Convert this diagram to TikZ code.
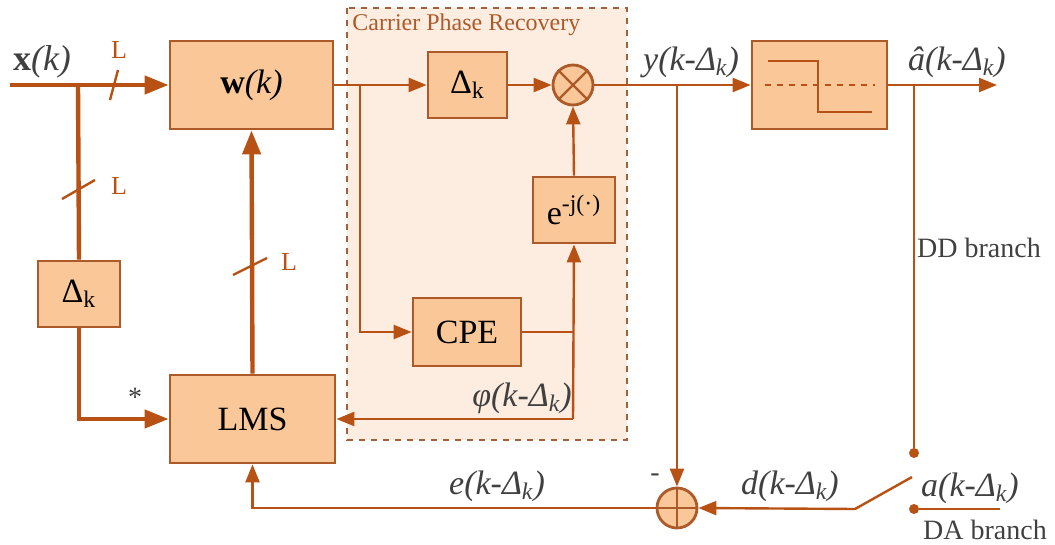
\documentclass[tikz,border=0pt]{standalone}
\usepackage{fontspec}
\setmainfont{Liberation Serif}
\usetikzlibrary{arrows.meta}

\definecolor{brn}{RGB}{184,82,20}
\definecolor{boxline}{RGB}{172,90,42}
\definecolor{boxfill}{RGB}{250,200,152}
\definecolor{cprfill}{RGB}{253,237,224}
\definecolor{txt}{RGB}{64,64,64}

\begin{document}
\begin{tikzpicture}[
x=0.5pt,y=-0.5pt,
box/.style={
draw=boxline,
fill=boxfill,
line width=1.4pt,
inner sep=0pt,
font=\fontsize{17}{20}\selectfont
},
sumnode/.style={
circle,
draw=boxline,
fill=boxfill,
line width=1.4pt,
minimum size=20pt,
inner sep=0pt
},
dot/.style={circle,fill=brn,inner sep=0pt,minimum size=5pt},
thickline/.style={draw=brn,line width=2.2pt},
thinline/.style={draw=brn,line width=1.2pt},
bigtip/.style={-{Triangle[length=12pt,width=9pt]}},
smalltip/.style={-{Triangle[length=9pt,width=7pt]}},
lbl/.style={text=txt,font=\fontsize{17}{20}\selectfont\itshape,inner sep=0pt},
note/.style={text=txt,font=\fontsize{14}{16}\selectfont,inner sep=0pt},
buslbl/.style={text=brn,font=\fontsize{13}{15}\selectfont,inner sep=0pt}
]

\useasboundingbox (0,0) rectangle (1055,545);

% carrier phase recovery area
\draw[fill=cprfill,draw=boxline!80!gray,dashed,line width=0.8pt] (347,8) rectangle (627,440);
\node[anchor=west,text=boxline,font=\fontsize{12}{14}\selectfont,inner sep=0pt] (CPRT) at (352,25) {Carrier Phase Recovery};

% blocks
\node[box,minimum width=81.5pt,minimum height=44pt] (W) at (251.5,85) {\textbf{w}\textit{(k)}};
\node[box,minimum width=82.5pt,minimum height=44pt] (LMS) at (252.5,419) {LMS};
\node[box,minimum width=41pt,minimum height=33pt] (D1) at (79,294) {Δ\textsubscript{k}};
\node[box,minimum width=39.5pt,minimum height=33pt] (D2) at (467.5,85) {Δ\textsubscript{k}};
\node[box,minimum width=41pt,minimum height=33pt] (E) at (574,210) {e\textsuperscript{-j(·)}};
\node[box,minimum width=54pt,minimum height=34pt] (CPE) at (467,332) {CPE};
\node[box,minimum width=67.5pt,minimum height=44pt] (DEC) at (819.5,85) {};
\node[sumnode] (MUL) at (573,85) {};
\node[sumnode] (ADD) at (677,508) {};
\node[dot] (DD) at (914,453) {};
\node[dot] (DA) at (914,509) {};

% symbols inside the circles and the decision box
\draw[boxline,line width=1.2pt] (MUL.45) -- (MUL.225) (MUL.135) -- (MUL.-45);
\draw[boxline,line width=1.2pt] (ADD.north) -- (ADD.south) (ADD.west) -- (ADD.east);
\draw[thinline] (768,61) -- (818,61) -- (818,112) -- (872,112);
\draw[thinline,line width=0.9pt,dashed] (765,85) -- (875,85);

% free ends and branch points
\coordinate (in) at (10,85);
\coordinate (b1) at (78,85);
\coordinate (b2) at (360,85);
\coordinate (b3) at (677,85);
\coordinate (b4) at (914,85);
\coordinate (out) at (997,85);
\coordinate (phi) at (573,419);
\coordinate (sw) at (855,509);
\coordinate (arm) at (912,477);
\coordinate (daend) at (1000,509);

% equalizer part
\draw[thickline,bigtip] (in) -- (W.west);
\draw[thickline] (b1) -- (D1.north);
\draw[thickline,bigtip] (D1.south) |- (LMS.west);
\draw[thickline,bigtip] (LMS.north) -- (W.south);

% bus marks
\draw[brn,line width=1.2pt] (110,100) -- (118,70);
\draw[brn,line width=1.2pt] (62,199) -- (95,180);
\draw[brn,line width=1.2pt] (233,275) -- (267,258);
\node[buslbl] (L1) at (119,50) {L};
\node[buslbl] (L2) at (119,186) {L};
\node[buslbl] (L3) at (289,262) {L};

% phase recovery
\draw[thinline,smalltip] (W.east) -- (D2.west);
\draw[thinline,smalltip] (b2) |- (CPE.west);
\draw[thinline,smalltip] (D2.east) -- (MUL.west);
\draw[thinline,smalltip] (E.north) -- (MUL.south);
\draw[thinline] (CPE.east) -- (CPE.east -| phi);
\draw[thinline,smalltip] (phi) -- (E.south);
\draw[thinline,smalltip] (phi) -- (LMS.east);

% decision and error
\draw[thinline,smalltip] (MUL.east) -- (DEC.west);
\draw[thinline,smalltip] (DEC.east) -- (out);
\draw[thinline,smalltip] (b3) -- (ADD.north);
\draw[thinline] (b4) -- (DD);
\draw[thinline] (DA) -- (daend);
\draw[thinline,smalltip] (arm) -- (sw) -- (ADD.east);
\draw[thinline,smalltip] (ADD.west) -| (LMS.south);

% labels
\node[lbl,font=\fontsize{18}{20}\selectfont] (XK) at (42,62) {\textbf{\upshape x}\textit{(k)}};
\node[note] (STAR) at (135,397) {*};
\node[lbl] (YK) at (691,62) {y(k-Δ\textsubscript{k})};
\node[lbl] (AHAT) at (957,62) {â(k-Δ\textsubscript{k})};
\node[lbl] (PHI) at (522,398) {φ(k-Δ\textsubscript{k})};
\node[lbl] (EK) at (497,486) {e(k-Δ\textsubscript{k})};
\node[lbl] (DK) at (790,486) {d(k-Δ\textsubscript{k})};
\node[lbl] (AK) at (970,488) {a(k-Δ\textsubscript{k})};
\node[note] (MINUS) at (655,478) {-};
\node[note] (DDB) at (979,248) {DD branch};
\node[note] (DAB) at (985,530) {DA branch};

\end{tikzpicture}
\end{document}
